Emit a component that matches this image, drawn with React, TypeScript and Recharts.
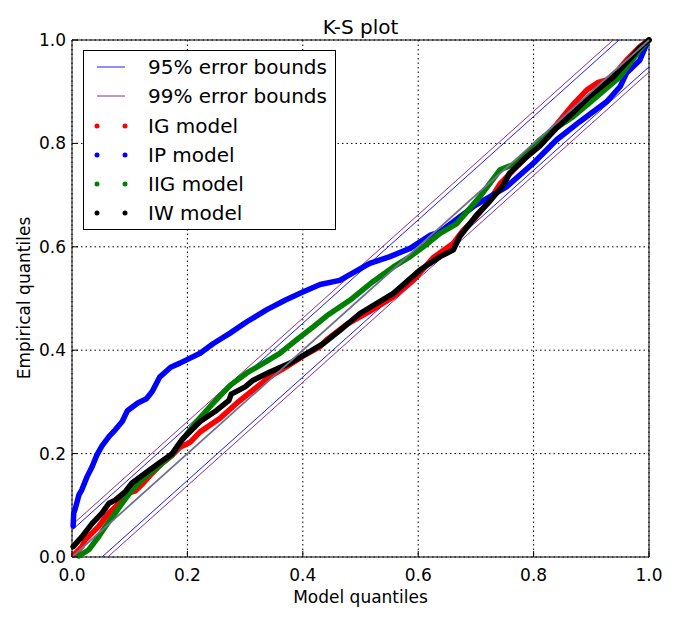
import React from 'react';
import {
  ComposedChart,
  Line,
  XAxis,
  YAxis,
  CartesianGrid,
  ReferenceLine,
  ReferenceArea,
} from 'recharts';

type Pt = { x: number; y: number };
const pts = (rows: number[][]): Pt[] => rows.map(([x, y]) => ({ x, y }));

const igModel = pts([
  [0.003, 0.004], [0.017, 0.02], [0.023, 0.033], [0.046, 0.059], [0.064, 0.085],
  [0.075, 0.097], [0.087, 0.11], [0.099, 0.124], [0.11, 0.128], [0.121, 0.14],
  [0.139, 0.162], [0.156, 0.181], [0.173, 0.196], [0.187, 0.212], [0.205, 0.222],
  [0.222, 0.242], [0.256, 0.268], [0.285, 0.297], [0.314, 0.323], [0.343, 0.349],
  [0.372, 0.368], [0.401, 0.389], [0.43, 0.407], [0.441, 0.42], [0.476, 0.45],
  [0.516, 0.475], [0.557, 0.503], [0.592, 0.536], [0.627, 0.58], [0.661, 0.607],
  [0.678, 0.632], [0.696, 0.652], [0.724, 0.69], [0.742, 0.722], [0.771, 0.755],
  [0.8, 0.787], [0.84, 0.837], [0.869, 0.876], [0.892, 0.903], [0.912, 0.918],
  [0.927, 0.923], [0.945, 0.94], [0.961, 0.961], [0.984, 0.987], [1, 1],
]);

const ipModel = pts([
  [0.002, 0.06], [0.003, 0.085], [0.006, 0.095], [0.012, 0.12], [0.017, 0.13],
  [0.026, 0.155], [0.035, 0.175], [0.043, 0.197], [0.052, 0.215], [0.064, 0.233],
  [0.075, 0.246], [0.087, 0.262], [0.096, 0.283], [0.114, 0.298], [0.129, 0.306],
  [0.139, 0.32], [0.152, 0.348], [0.171, 0.367], [0.187, 0.375], [0.222, 0.394],
  [0.245, 0.413], [0.274, 0.433], [0.303, 0.455], [0.337, 0.478], [0.37, 0.497],
  [0.401, 0.513], [0.43, 0.527], [0.464, 0.535], [0.516, 0.568], [0.551, 0.581],
  [0.586, 0.597], [0.62, 0.622], [0.638, 0.629], [0.696, 0.678], [0.753, 0.716],
  [0.8, 0.762], [0.84, 0.807], [0.88, 0.842], [0.927, 0.881], [0.95, 0.91],
  [0.961, 0.936], [0.984, 0.961], [0.997, 0.995],
]);

const iigModel = pts([
  [0.012, 0.002], [0.029, 0.014], [0.046, 0.039], [0.058, 0.059], [0.075, 0.085],
  [0.087, 0.104], [0.104, 0.13], [0.121, 0.149], [0.15, 0.175], [0.173, 0.197],
  [0.19, 0.225], [0.216, 0.262], [0.245, 0.298], [0.274, 0.332], [0.303, 0.356],
  [0.332, 0.375], [0.36, 0.394], [0.389, 0.42], [0.418, 0.445], [0.441, 0.466],
  [0.482, 0.497], [0.522, 0.533], [0.557, 0.561], [0.586, 0.581], [0.609, 0.6],
  [0.638, 0.626], [0.667, 0.645], [0.707, 0.697], [0.742, 0.749], [0.771, 0.762],
  [0.811, 0.807], [0.834, 0.826], [0.869, 0.852], [0.903, 0.884], [0.95, 0.929],
  [0.984, 0.981], [1, 1],
]);

const iwModel = pts([
  [0.002, 0.02], [0.017, 0.039], [0.035, 0.065], [0.052, 0.085], [0.064, 0.104],
  [0.075, 0.11], [0.092, 0.126], [0.104, 0.143], [0.127, 0.162], [0.15, 0.181],
  [0.173, 0.199], [0.19, 0.226], [0.222, 0.262], [0.251, 0.284], [0.272, 0.303],
  [0.276, 0.315], [0.3, 0.329], [0.314, 0.342], [0.343, 0.358], [0.378, 0.375],
  [0.407, 0.394], [0.436, 0.413], [0.466, 0.44], [0.499, 0.471], [0.557, 0.51],
  [0.603, 0.555], [0.638, 0.581], [0.661, 0.594], [0.672, 0.62], [0.701, 0.661],
  [0.724, 0.688], [0.748, 0.72], [0.758, 0.742], [0.788, 0.774], [0.811, 0.795],
  [0.84, 0.83], [0.867, 0.858], [0.898, 0.892], [0.938, 0.928], [0.96, 0.955],
  [0.984, 0.985], [1, 1],
]);

const ticks = [0, 0.2, 0.4, 0.6, 0.8, 1];
const bound95 = 0.052;
const bound99 = 0.062;

const series = [
  { name: 'IG model', data: igModel, color: '#ff0000' },
  { name: 'IP model', data: ipModel, color: '#0000ff' },
  { name: 'IIG model', data: iigModel, color: '#008000' },
  { name: 'IW model', data: iwModel, color: '#000000' },
];

const bounds = [
  { name: '95% error bounds', d: bound95, color: '#1a1aff' },
  { name: '99% error bounds', d: bound99, color: '#8a2f8a' },
];

const font = '"DejaVu Sans", sans-serif';

const BottomTick = ({ x, y, payload }: any) => (
  <g>
    <line x1={x} x2={x} y1={y} y2={y - 6} stroke="#000" />
    <text x={x} y={y + 24} textAnchor="middle" fontSize={17} fontFamily={font} fill="#000">
      {payload.value.toFixed(1)}
    </text>
  </g>
);
const TopTick = ({ x, y }: any) => <line x1={x} x2={x} y1={y} y2={y + 6} stroke="#000" />;
const LeftTick = ({ x, y, payload }: any) => (
  <g>
    <line x1={x} x2={x + 6} y1={y} y2={y} stroke="#000" />
    <text x={x - 6} y={y + 6} textAnchor="end" fontSize={17} fontFamily={font} fill="#000">
      {payload.value.toFixed(1)}
    </text>
  </g>
);
const RightTick = ({ x, y }: any) => <line x1={x} x2={x - 6} y1={y} y2={y} stroke="#000" />;

const Legend = () => (
  <div
    style={{
      position: 'absolute', left: 83, top: 50, width: 253, height: 180,
      border: '1px solid #000', background: '#fff', boxSizing: 'border-box',
    }}
  >
    <svg width={251} height={178}>
      {bounds.map((b, i) => (
        <g key={b.name}>
          <line x1={13} x2={41} y1={16 + i * 29} y2={16 + i * 29} stroke={b.color} strokeWidth={1} />
          <text x={64} y={23 + i * 29} fontSize={20} fontFamily={font}>{b.name}</text>
        </g>
      ))}
      {series.map((s, i) => (
        <g key={s.name}>
          <circle cx={13} cy={75 + i * 29} r={2.5} fill={s.color} />
          <circle cx={41} cy={75 + i * 29} r={2.5} fill={s.color} />
          <text x={64} y={82 + i * 29} fontSize={20} fontFamily={font}>{s.name}</text>
        </g>
      ))}
    </svg>
  </div>
);

export default function App() {
  return (
    <div style={{ position: 'absolute', left: 0, top: 0, width: 680, height: 620, background: '#fff', fontFamily: font }}>
      <ComposedChart width={680} height={620} margin={{ top: 39, right: 30, bottom: 62, left: 71 }}>
        <CartesianGrid stroke="#000" strokeWidth={1} strokeDasharray="1.5 3" />
        <XAxis dataKey="x" type="number" domain={[0, 1]} ticks={ticks} interval={0} height={1}
          axisLine={false} tickLine={false} tickSize={0} tickMargin={0} tick={<BottomTick />} />
        <XAxis xAxisId="top" orientation="top" type="number" domain={[0, 1]} ticks={ticks} interval={0} height={1}
          axisLine={false} tickLine={false} tickSize={0} tickMargin={0} tick={<TopTick />} />
        <YAxis type="number" domain={[0, 1]} ticks={ticks} interval={0} width={1}
          axisLine={false} tickLine={false} tickSize={0} tickMargin={0} tick={<LeftTick />} />
        <YAxis yAxisId="right" orientation="right" type="number" domain={[0, 1]} ticks={ticks} interval={0} width={1}
          axisLine={false} tickLine={false} tickSize={0} tickMargin={0} tick={<RightTick />} />
        {bounds.map((b) => (
          <ReferenceLine key={b.name + 'u'} segment={[{ x: 0, y: b.d }, { x: 1 - b.d, y: 1 }]} stroke={b.color} strokeWidth={1} />
        ))}
        {bounds.map((b) => (
          <ReferenceLine key={b.name + 'l'} segment={[{ x: b.d, y: 0 }, { x: 1, y: 1 - b.d }]} stroke={b.color} strokeWidth={1} />
        ))}
        {series.map((s) => (
          <Line key={s.name} data={s.data} dataKey="y" type="linear" stroke={s.color} strokeWidth={5.5}
            strokeLinejoin="round" strokeLinecap="round" dot={false} activeDot={false} isAnimationActive={false} />
        ))}
        <ReferenceLine segment={[{ x: 0, y: 0 }, { x: 1, y: 1 }]} stroke="#70708f" strokeWidth={1.8} />
        <ReferenceArea x1={0} x2={1} y1={0} y2={1} fill="none" stroke="#000" strokeWidth={1} ifOverflow="visible" />
      </ComposedChart>
      <div style={{ position: 'absolute', left: 72, width: 577, top: 15, lineHeight: '24px', fontSize: 20, textAlign: 'center' }}>
        K-S plot
      </div>
      <div style={{ position: 'absolute', left: 72, width: 577, top: 586, lineHeight: '22px', fontSize: 17, textAlign: 'center' }}>
        Model quantiles
      </div>
      <div style={{
        position: 'absolute', left: 24 - 150, top: 298 - 11, width: 300, lineHeight: '22px', fontSize: 17,
        textAlign: 'center', transform: 'rotate(-90deg)',
      }}>
        Empirical quantiles
      </div>
      <Legend />
    </div>
  );
}
